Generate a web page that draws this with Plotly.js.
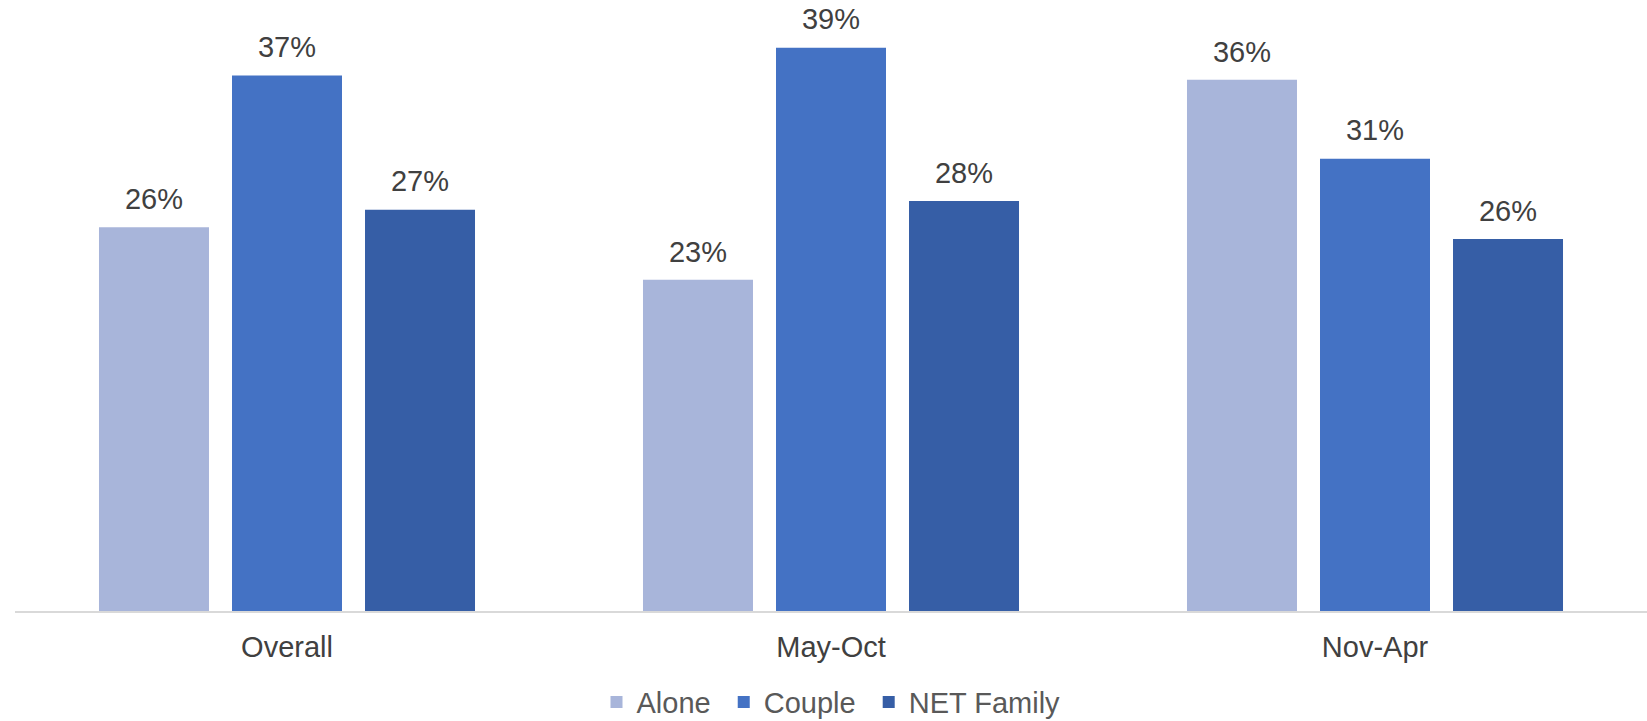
<!DOCTYPE html>
<html>
<head>
<meta charset="utf-8">
<script src="https://cdn.plot.ly/plotly-3.0.1.min.js"></script>
<style>html,body{margin:0;padding:0;background:#fff;}#chart{width:1647px;height:721px;}</style>
</head>
<body>
<div id="chart"></div>
<script>
const categories = ["Overall", "May-Oct", "Nov-Apr"];
const seriesNames = ["Alone\u00a0", "Couple\u00a0", "NET Family"];
const aloneValues = [26.3, 22.7, 36.4];
const coupleValues = [36.7, 38.6, 31.0];
const familyValues = [27.5, 28.1, 25.5];
const aloneLabels = ["26%", "23%", "36%"];
const coupleLabels = ["37%", "39%", "31%"];
const familyLabels = ["27%", "28%", "26%"];
const colors = ["#A8B5DA", "#4472C4", "#365EA6"];

const allValues = [aloneValues, coupleValues, familyValues];
const allLabels = [aloneLabels, coupleLabels, familyLabels];
const font = "Liberation Sans, Arial, sans-serif";

const traces = [];
allValues.forEach((vals, i) => {
  traces.push({
    type: "bar",
    name: seriesNames[i],
    x: categories,
    y: vals,
    offsetgroup: "g" + i,
    marker: {color: colors[i]},
    hoverinfo: "skip"
  });
});
allValues.forEach((vals, i) => {
  traces.push({
    type: "scatter",
    mode: "markers+text",
    x: categories,
    y: vals,
    offsetgroup: "g" + i,
    text: allLabels[i],
    textposition: "top center",
    marker: {size: 16, opacity: 0, color: colors[i]},
    textfont: {family: font, size: 29, color: "#404040"},
    showlegend: false,
    cliponaxis: false,
    hoverinfo: "skip"
  });
});

const layout = {
  width: 1647,
  height: 721,
  margin: {l: 15, r: 0, t: 20, b: 110},
  paper_bgcolor: "#ffffff",
  plot_bgcolor: "#ffffff",
  barmode: "group",
  scattermode: "group",
  bargap: 0.2665,
  scattergap: 0.2665,
  bargroupgap: 0.173,
  font: {family: font, size: 29, color: "#404040"},
  xaxis: {
    type: "category",
    showline: true,
    linecolor: "#D9D9D9",
    linewidth: 1.5,
    ticks: "",
    ticklabelstandoff: 10,
    showgrid: false,
    zeroline: false,
    automargin: false,
    tickfont: {family: font, size: 29, color: "#404040"},
    fixedrange: true
  },
  yaxis: {
    range: [0, 40.5],
    visible: false,
    showgrid: false,
    zeroline: false,
    fixedrange: true
  },
  legend: {
    orientation: "h",
    x: 0.5,
    xanchor: "center",
    xref: "paper",
    yref: "container",
    y: 0.026,
    yanchor: "middle",
    font: {family: font, size: 29, color: "#595959"},
    itemwidth: 30,
    traceorder: "normal"
  },
  showlegend: true
};

Plotly.newPlot("chart", traces, layout, {displayModeBar: false, staticPlot: true});
</script>
</body>
</html>
